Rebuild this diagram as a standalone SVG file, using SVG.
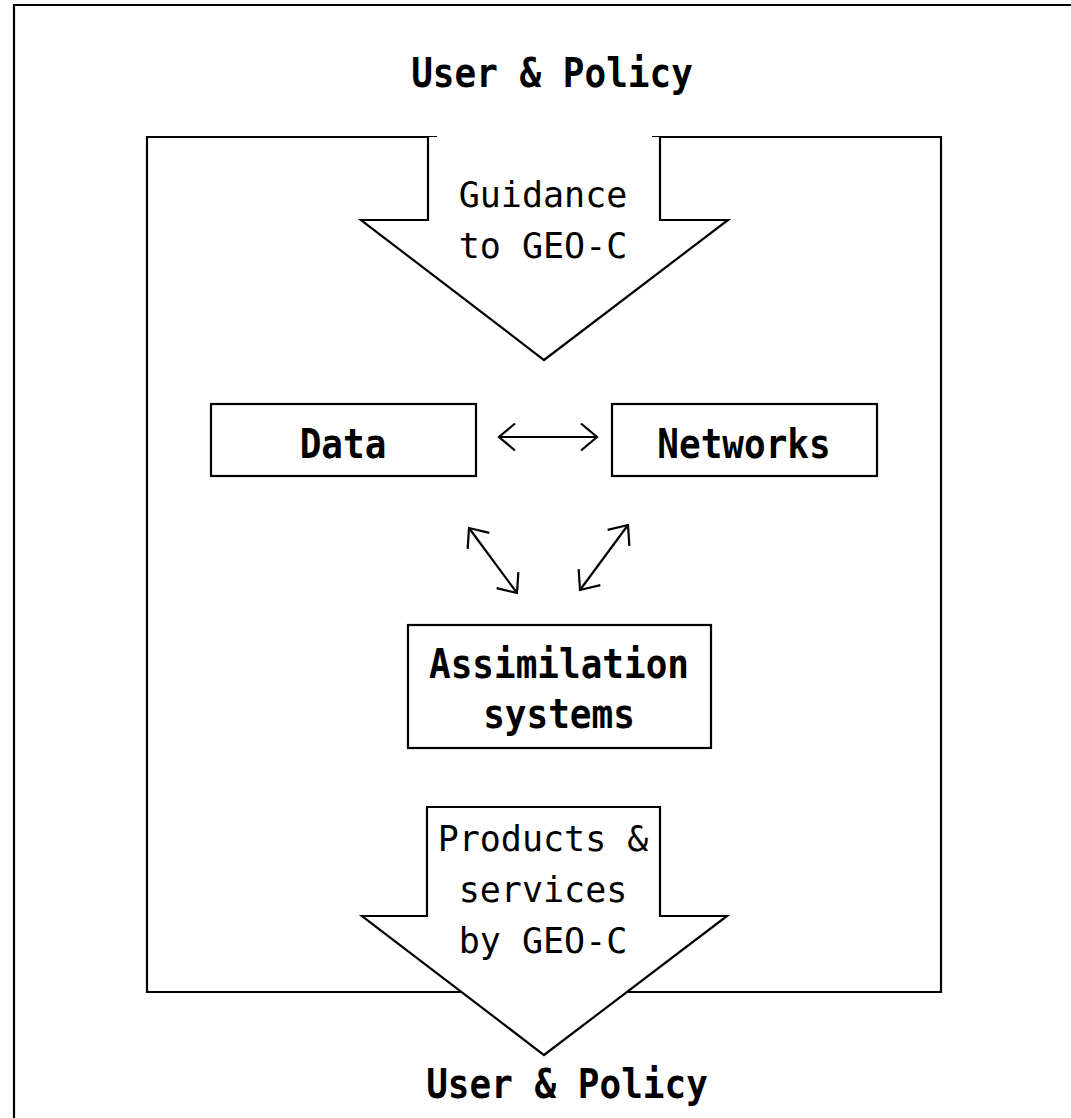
<svg xmlns="http://www.w3.org/2000/svg" width="1071" height="1118" viewBox="0 0 1071 1118">
<style>
.ln{fill:none;stroke:#000;stroke-width:2.2}
.box{fill:#fff;stroke:#000;stroke-width:2.2}
.t{font-family:"DejaVu Sans Mono","Liberation Mono",monospace;font-size:35px;text-anchor:middle;fill:#000}
.b{font-family:"DejaVu Sans Mono","Liberation Mono",monospace;font-size:36px;font-weight:bold;text-anchor:middle;fill:#000}
.c{fill:none;stroke:#000;stroke-width:2.2}
</style>
<defs>
<marker id="ah" markerUnits="userSpaceOnUse" markerWidth="40" markerHeight="40" viewBox="-20 -20 40 40" refX="0" refY="0" orient="auto-start-reverse" overflow="visible">
<path d="M-16,-13.5 L0,0 L-16,13.5" fill="none" stroke="#000" stroke-width="2.2"/>
</marker>
</defs>
<rect width="1071" height="1118" fill="#fff"/>
<g id="frame">
<path class="ln" d="M14,1120 V5 H1075"/>
</g>
<g id="top-label">
<text class="b" transform="translate(552,87) scale(1,1.15)">User &amp; Policy</text>
</g>
<g id="system-box">
<path class="ln" d="M437,137 H147 V992 H941 V137 H652"/>
</g>
<g id="guidance-arrow">
<path class="box" d="M428,137 V220 H361 L544,360 L728,220 H660 V137"/>
<text class="t" x="543" y="207">Guidance</text>
<text class="t" x="543" y="258">to GEO-C</text>
</g>
<g id="data">
<rect class="box" x="211" y="404" width="265" height="72"/>
<text class="b" transform="translate(343,458) scale(1,1.15)">Data</text>
</g>
<g id="networks">
<rect class="box" x="612" y="404" width="265" height="72"/>
<text class="b" transform="translate(744,458) scale(1,1.15)">Networks</text>
</g>
<g id="assimilation">
<rect class="box" x="408" y="625" width="303" height="123"/>
<text class="b" transform="translate(559,678) scale(1,1.15)">Assimilation</text>
<text class="b" transform="translate(559,728) scale(1,1.15)">systems</text>
</g>
<g id="connectors">
<line class="c" x1="499" y1="437" x2="597" y2="437" marker-start="url(#ah)" marker-end="url(#ah)"/>
<line class="c" x1="469" y1="528" x2="517" y2="593" marker-start="url(#ah)" marker-end="url(#ah)"/>
<line class="c" x1="628" y1="525" x2="580" y2="590" marker-start="url(#ah)" marker-end="url(#ah)"/>
</g>
<g id="products-arrow">
<path class="box" d="M427,807 H660 V916 H727 L544,1055 L362,916 H427 Z"/>
<text class="t" x="543" y="851">Products &amp;</text>
<text class="t" x="543" y="902">services</text>
<text class="t" x="543" y="953">by GEO-C</text>
</g>
<g id="bottom-label">
<text class="b" transform="translate(567,1098) scale(1,1.15)">User &amp; Policy</text>
</g>
</svg>
